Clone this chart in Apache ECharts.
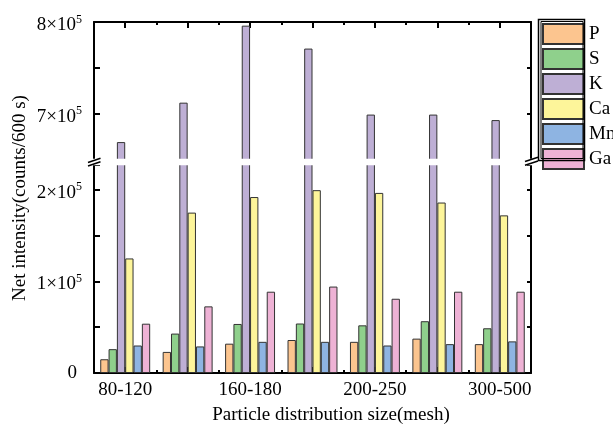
<!DOCTYPE html>
<html><head><meta charset="utf-8">
<script src="https://cdn.jsdelivr.net/npm/echarts@6/dist/echarts.min.js"></script>
<style>html,body{margin:0;padding:0;background:#fff}#c{width:613px;height:424px}</style>
</head><body><div id="c"></div>
<script>
// ---- data ----
const categories = ['80-120', '120-160', '160-180', '180-200', '200-250', '250-300', '300-500'];
const seriesNames = ['P', 'S', 'K', 'Ca', 'Mn', 'Ga'];
const P  = [15000, 23000, 32000, 36000, 34000, 37500, 31500];
const S  = [26000, 43000, 53500, 54000, 52000, 56500, 48800];
const K  = [669000, 712000, 796000, 771000, 699000, 699000, 693000];
const Ca = [125000, 175000, 192000, 199500, 196500, 186000, 172000];
const Mn = [30000, 29000, 34000, 34000, 30000, 31500, 34500];
const Ga = [53800, 72700, 88700, 94300, 81000, 88700, 88700];
const yLabelValues = [0, 100000, 200000, 700000, 800000];
const yLabelMantissa = ['0', '1', '2', '7', '8'];
const yLabelExponent = ['', '5', '5', '5', '5'];

// ---- style ----
const FONT = 'Liberation Serif';
const colors = ['#FCC58F', '#8FD08C', '#BEAFD5', '#FDF59A', '#8EB4E2', '#EEB2D5'];
const seriesData = [P, S, K, Ca, Mn, Ga];

const chart = echarts.init(document.getElementById('c'), null, {renderer: 'canvas'});

function yLabelFormatter(v) {
  const i = yLabelValues.indexOf(v);
  if (i < 0) return '';
  if (yLabelExponent[i] === '') return '{z|' + yLabelMantissa[i] + '}';
  return '{b|' + yLabelMantissa[i] + '×10}{s|' + yLabelExponent[i] + '}';
}
const richY = {
  b: {fontSize: 19, fontFamily: FONT, color: '#000', verticalAlign: 'bottom', padding: [6, 0, 0, 0]},
  s: {fontSize: 12, fontFamily: FONT, color: '#000', verticalAlign: 'bottom', padding: [0, 0, 9, 0]},
  z: {fontSize: 19, fontFamily: FONT, color: '#000', padding: [0, 5, 0, 0]}
};
const axisLineStyle = {show: true, lineStyle: {color: '#000', width: 2}};

function catAxis(grid, pos, showLabel) {
  return {
    type: 'category', gridIndex: grid, position: pos, data: categories,
    axisLine: axisLineStyle,
    axisTick: {show: true, inside: true, alignWithLabel: true, interval: 0, length: 6, lineStyle: {color: '#000', width: 2}},
    axisLabel: {show: showLabel, interval: 1, fontSize: 19, fontFamily: FONT, color: '#000', margin: 8},
    splitLine: {show: false}
  };
}
function boundAxis(grid, pos) {
  return {
    type: 'value', gridIndex: grid, position: pos, min: 0, max: categories.length, interval: 1,
    axisLine: {show: false},
    axisTick: {show: true, inside: true, length: 3, lineStyle: {color: '#000', width: 2}},
    axisLabel: {show: false}, splitLine: {show: false}
  };
}
function valAxis(grid, pos, min, max, showLabel) {
  return {
    type: 'value', gridIndex: grid, position: pos, min: min, max: max, interval: 50000,
    axisLine: axisLineStyle,
    axisTick: {show: true, inside: true, length: pos === 'left' ? 6 : 4, lineStyle: {color: '#000', width: 2}},
    axisLabel: {show: showLabel, formatter: yLabelFormatter, rich: richY, margin: 12, showMinLabel: true, showMaxLabel: true},
    splitLine: {show: false}
  };
}

const series = [];
seriesNames.forEach((name, i) => {
  [0, 1].forEach(g => {
    series.push({
      name: name, type: 'bar', xAxisIndex: g, yAxisIndex: g * 2,
      data: seriesData[i], barGap: 0, barCategoryGap: '20%',
      itemStyle: {color: colors[i], borderColor: '#333', borderWidth: 1},
      emphasis: {disabled: true}
    });
  });
});

const gapTop = 159.5, gapBottom = 164.5;
const plotLeft = 94, plotRight = 531;

chart.setOption({
  animation: false,
  backgroundColor: '#fff',
  grid: [
    {left: plotLeft, right: 613 - plotRight, top: 22, bottom: 424 - gapTop},
    {left: plotLeft, right: 613 - plotRight, top: gapBottom, bottom: 51}
  ],
  xAxis: [catAxis(0, 'top', false), catAxis(1, 'bottom', true), boundAxis(0, 'top'), boundAxis(1, 'bottom')],
  yAxis: [
    valAxis(0, 'left', 650000, 800000, true),
    valAxis(0, 'right', 650000, 800000, false),
    valAxis(1, 'left', 0, 227500, true),
    valAxis(1, 'right', 0, 227500, false)
  ],
  legend: {
    data: seriesNames, orient: 'vertical', left: 542, top: 23, padding: 0,
    itemWidth: 41, itemHeight: 20, itemGap: 3, icon: 'rect', selectedMode: false,
    textStyle: {fontSize: 19, fontFamily: FONT, color: '#000', padding: [0, 0, 0, 0]}
  },
  series: series,
  graphic: [
    {type: 'rect', z: 100, shape: {x: plotLeft - 4, y: gapTop - 0.8, width: plotRight - plotLeft + 8, height: gapBottom - gapTop + 1.6}, style: {fill: '#fff'}},
    {type: 'line', z: 101, shape: {x1: 88, y1: 162.5, x2: 100.5, y2: 158.3}, style: {stroke: '#000', lineWidth: 1.5}},
    {type: 'line', z: 101, shape: {x1: 88, y1: 166, x2: 100.5, y2: 161.8}, style: {stroke: '#000', lineWidth: 1.5}},
    {type: 'line', z: 101, shape: {x1: 525, y1: 161.5, x2: 538, y2: 157.3}, style: {stroke: '#000', lineWidth: 1.5}},
    {type: 'line', z: 101, shape: {x1: 525, y1: 165.2, x2: 538, y2: 161}, style: {stroke: '#000', lineWidth: 1.5}},
    {type: 'rect', z: 101, shape: {x: 538.5, y: 19.5, width: 46, height: 141}, style: {fill: null, stroke: '#000', lineWidth: 1.5}},
    {type: 'rect', z: 101, shape: {x: 541, y: 21.5, width: 42, height: 137}, style: {fill: null, stroke: '#000', lineWidth: 1}},
    {type: 'text', z: 101, x: 331, y: 415, style: {text: 'Particle distribution size(mesh)', fontSize: 19, fontFamily: FONT, fill: '#000', align: 'center', verticalAlign: 'middle', textAlign: 'center', textVerticalAlign: 'middle'}},
    {type: 'text', z: 101, x: 20, y: 198, rotation: Math.PI / 2, style: {text: 'Net intensity(counts/600 s)', fontSize: 19, fontFamily: FONT, fill: '#000', align: 'center', verticalAlign: 'middle', textAlign: 'center', textVerticalAlign: 'middle'}}
  ]
});
</script></body></html>
